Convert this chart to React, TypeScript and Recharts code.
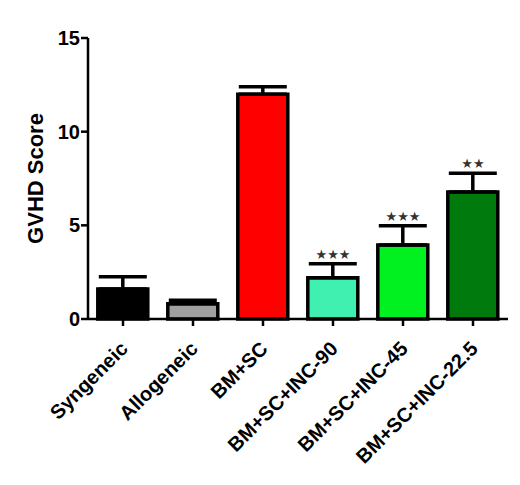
import { Bar, Cell, ComposedChart, ErrorBar, LabelList, Line, XAxis, YAxis } from "recharts";

const groups = ["Syngeneic", "Allogeneic", "BM+SC", "BM+SC+INC-90", "BM+SC+INC-45", "BM+SC+INC-22.5"];
const scores = [1.6, 0.82, 12.0, 2.2, 3.95, 6.78];
const sems = [0.65, 0.18, 0.4, 0.75, 1.03, 1.0];
const stars = ["", "", "", "★★★", "★★★", "★★"];
const colors = ["#000000", "#a0a0a0", "#ff0000", "#40f0b0", "#00f020", "#007a0c"];
const yTicks = [0, 5, 10, 15];

const data = groups.map((g, i) => ({
  group: g,
  score: scores[i],
  err: [0, sems[i]],
  top: scores[i] + sems[i],
  sig: stars[i],
}));

const font = "'Liberation Sans', Arial, sans-serif";

const XTick = (props: any) => {
  const { x, y, payload } = props;
  const tx = x + 6;
  const ty = y + 22;
  return (
    <text
      x={tx}
      y={ty}
      transform={`rotate(-45, ${tx}, ${ty})`}
      textAnchor="end"
      fontFamily={font}
      fontWeight="bold"
      fontSize={20}
      fill="#000"
    >
      {payload.value}
    </text>
  );
};

export default function App() {
  return (
    <div style={{ position: "absolute", left: 0, top: 0, background: "#fff" }}>
      <ComposedChart
        width={520}
        height={485}
        data={data}
        margin={{ top: 38, right: 12, left: 0, bottom: 0 }}
        barCategoryGap="14%"
      >
        <XAxis
          dataKey="group"
          interval={0}
          height={166}
          tick={<XTick />}
          axisLine={{ stroke: "#000", strokeWidth: 2.5 }}
          tickLine={{ stroke: "#000", strokeWidth: 2.5 }}
          tickSize={7}
        />
        <YAxis
          domain={[0, 15]}
          ticks={yTicks}
          width={88}
          axisLine={{ stroke: "#000", strokeWidth: 2.5 }}
          tickLine={{ stroke: "#000", strokeWidth: 2.5 }}
          tickSize={7}
          tickMargin={1}
          tick={{ fill: "#000", fontSize: 20, fontWeight: "bold", fontFamily: font }}
          label={{
            value: "GVHD Score",
            angle: -90,
            position: "insideLeft",
            offset: 35,
            style: { textAnchor: "middle", fill: "#000", fontSize: 22, fontWeight: "bold", fontFamily: font },
          }}
        />
        <Bar dataKey="score" stroke="#000" strokeWidth={3.5} isAnimationActive={false}>
          {data.map((d, i) => (
            <Cell key={d.group} fill={colors[i]} />
          ))}
          <ErrorBar dataKey="err" width={24} stroke="#000" strokeWidth={3.5} direction="y" />
        </Bar>
        <Line dataKey="top" stroke="none" dot={false} activeDot={false} isAnimationActive={false}>
          <LabelList
            dataKey="sig"
            position="top"
            offset={5}
            style={{ fill: "#333", fontSize: 13, fontFamily: "'DejaVu Sans', sans-serif" }}
          />
        </Line>
      </ComposedChart>
    </div>
  );
}
